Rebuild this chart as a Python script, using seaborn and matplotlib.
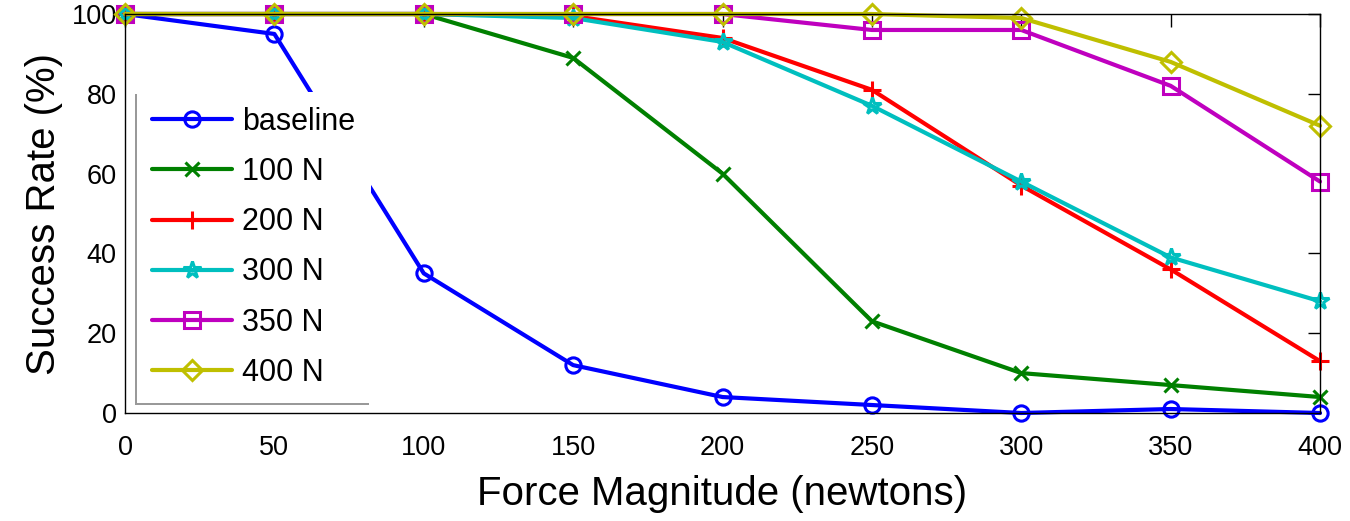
import matplotlib
matplotlib.use("Agg")
import matplotlib.pyplot as plt
import matplotlib.patheffects as pe
import seaborn as sns
import pandas as pd

# force magnitudes (x axis)
force = [0, 50, 100, 150, 200, 250, 300, 350, 400]

# success rates (%)
baseline = [100, 95, 35, 12, 4, 2, 0, 1, 0]
n100 = [100, 100, 100, 89, 60, 23, 10, 7, 4]
n200 = [100, 100, 100, 99.5, 94, 81, 57, 36, 13]
n300 = [100, 100, 100, 99, 93, 77, 58, 39, 28]
n350 = [100, 100, 100, 100, 100, 96, 96, 82, 58]
n400 = [100, 100, 100, 100, 100, 100, 99, 88, 72]

names = ['baseline', '100 N', '200 N', '300 N', '350 N', '400 N']
series = [baseline, n100, n200, n300, n350, n400]

# MATLAB-like colours and markers
colors = ['#0000ff', '#008000', '#ff0000', '#00bfbf', '#bf00bf', '#bfbf00']
markers = ['o', 'x', '+', '*', 's', 'D']
msizes = [11, 10, 13, 13, 11, 10]

sns.set_style("white")
plt.rcParams['font.family'] = ['Liberation Sans', 'DejaVu Sans']
plt.rcParams['text.color'] = 'black'
plt.rcParams['axes.labelcolor'] = 'black'

fig = plt.figure(figsize=(13.5, 5.21), dpi=100)
ax = fig.add_axes([0.0926, 0.2073, 0.8852, 0.7658])

for name, vals, c, m, ms in zip(names, series, colors, markers, msizes):
    df = pd.DataFrame({'force': force, 'rate': vals})
    sns.lineplot(data=df, x='force', y='rate', ax=ax, color=c, marker=m,
                 markersize=ms, markeredgecolor=c, markerfacecolor='none',
                 markeredgewidth=2.2, linewidth=3, label=name,
                 errorbar=None, clip_on=False)

ax.set_xlim(0, 400)
ax.set_ylim(0, 100)
ax.set_xticks(range(0, 401, 50))
ax.set_yticks(range(0, 101, 20))
ax.tick_params(direction='in', length=9, width=1, top=True, right=True,
               labelsize=19.5, colors='black')
ax.tick_params(axis='x', pad=16)
ax.tick_params(axis='y', pad=6)
for s in ax.spines.values():
    s.set_visible(True)
    s.set_color('black')
    s.set_linewidth(1)

ax.set_xlabel('Force Magnitude (newtons)', fontsize=29, labelpad=10,
              color='black')
ax.set_ylabel('Success Rate (%)', fontsize=29, labelpad=6, color='black')

leg = ax.legend(loc='lower left', bbox_to_anchor=(0.010, 0.025),
                borderaxespad=0, fontsize=22, handlelength=2.6,
                handletextpad=0.35, borderpad=0.5, labelspacing=0.66,
                fancybox=False, framealpha=1, labelcolor='black')
frame = leg.get_frame()
frame.set_edgecolor('none')
frame.set_facecolor('white')
frame.set_path_effects([pe.SimplePatchShadow(offset=(-1.5, -1.5),
                                             shadow_rgbFace='#999999', alpha=1),
                        pe.Normal()])

fig.savefig('out.png', dpi=100, facecolor='white')
